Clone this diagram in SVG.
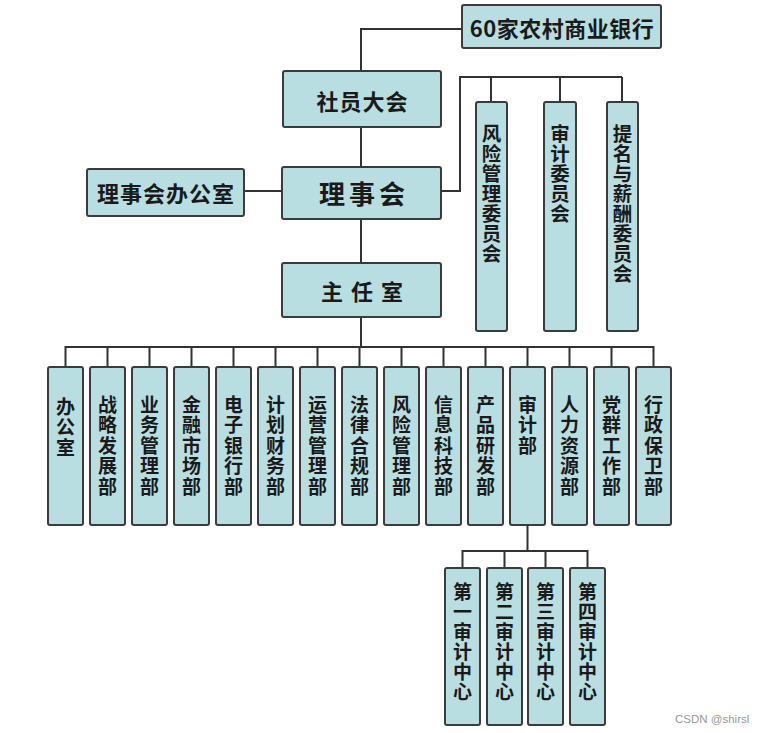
<svg xmlns="http://www.w3.org/2000/svg" width="763" height="733" viewBox="0 0 763 733">
<style>
.box{fill:#b8dee2;stroke:#3c3c3c;stroke-width:2}
.ln{fill:none;stroke:#333;stroke-width:2}
.t{font-family:"Noto Sans CJK SC","Noto Sans",sans-serif;font-weight:700;fill:#1a1a1a}
.h{text-anchor:middle;dominant-baseline:central}
.v{writing-mode:vertical-rl;text-anchor:start;font-size:19px;letter-spacing:1.5px}
.c{writing-mode:vertical-rl;text-anchor:start;font-size:19.5px;letter-spacing:0.5px}
.s{writing-mode:vertical-rl;text-anchor:start;font-size:19px;letter-spacing:1px}
.wm{font-family:"Liberation Sans",Arial,sans-serif;font-size:11.5px;fill:#999}
</style>
<rect width="763" height="733" fill="#fff"/>
<g id="connectors">
<path class="ln" d="M462 29 H361 V71 M361 127 V167 M361 219 V263 M361 317 V347"/>
<path class="ln" d="M244 191 H282"/>
<path class="ln" d="M441 191 H460 V77 H622 M491 77 V102 M560 77 V102 M622 77 V102"/>
<path class="ln" d="M65.5 367 V347 H653.5 V367 M107.5 347 V367 M149.5 347 V367 M191.5 347 V367 M233.5 347 V367 M275.5 347 V367 M317.5 347 V367 M359.5 347 V367 M401.5 347 V367 M443.5 347 V367 M485.5 347 V367 M527.5 347 V367 M569.5 347 V367 M611.5 347 V367"/>
<path class="ln" d="M527.5 525 V551 M462.5 568 V551 H587.5 V568 M504.5 551 V568 M545.5 551 V568"/>
</g>
<g id="bank"><rect class="box" x="462" y="5" width="199" height="43" rx="2"/><text class="t h" x="562" y="27" font-size="22" letter-spacing="0.5">60家农村商业银行</text></g>
<g id="members"><rect class="box" x="283" y="71" width="158" height="56" rx="2"/><text class="t h" x="362.5" y="100" font-size="22" letter-spacing="1">社员大会</text></g>
<g id="board"><rect class="box" x="282" y="167" width="159" height="52" rx="2"/><text class="t h" x="364" y="192" font-size="26" letter-spacing="4">理事会</text></g>
<g id="board-office"><rect class="box" x="87" y="169" width="157" height="47" rx="2"/><text class="t h" x="166" y="192" font-size="22" letter-spacing="1">理事会办公室</text></g>
<g id="director"><rect class="box" x="282" y="263" width="159" height="54" rx="2"/><text class="t h" x="366" y="290" font-size="22" letter-spacing="8">主任室</text></g>
<g id="risk-committee"><rect class="box" x="476" y="102" width="31" height="229" rx="2"/><text class="t c" x="491.5" y="124">风险管理委员会</text></g>
<g id="audit-committee"><rect class="box" x="544" y="102" width="32" height="229" rx="2"/><text class="t c" x="560" y="124">审计委员会</text></g>
<g id="nomination-committee"><rect class="box" x="607" y="102" width="31" height="229" rx="2"/><text class="t c" x="622.5" y="124">提名与薪酬委员会</text></g>
<g id="d1"><rect class="box" x="48" y="367" width="35" height="158" rx="2"/><text class="t v" x="65.5" y="397">办公室</text></g>
<g id="d2"><rect class="box" x="90" y="367" width="35" height="158" rx="2"/><text class="t v" x="107.5" y="395">战略发展部</text></g>
<g id="d3"><rect class="box" x="132" y="367" width="35" height="158" rx="2"/><text class="t v" x="149.5" y="395">业务管理部</text></g>
<g id="d4"><rect class="box" x="174" y="367" width="35" height="158" rx="2"/><text class="t v" x="191.5" y="395">金融市场部</text></g>
<g id="d5"><rect class="box" x="216" y="367" width="35" height="158" rx="2"/><text class="t v" x="233.5" y="395">电子银行部</text></g>
<g id="d6"><rect class="box" x="258" y="367" width="35" height="158" rx="2"/><text class="t v" x="275.5" y="395">计划财务部</text></g>
<g id="d7"><rect class="box" x="300" y="367" width="35" height="158" rx="2"/><text class="t v" x="317.5" y="395">运营管理部</text></g>
<g id="d8"><rect class="box" x="342" y="367" width="35" height="158" rx="2"/><text class="t v" x="359.5" y="395">法律合规部</text></g>
<g id="d9"><rect class="box" x="384" y="367" width="35" height="158" rx="2"/><text class="t v" x="401.5" y="395">风险管理部</text></g>
<g id="d10"><rect class="box" x="426" y="367" width="35" height="158" rx="2"/><text class="t v" x="443.5" y="395">信息科技部</text></g>
<g id="d11"><rect class="box" x="468" y="367" width="35" height="158" rx="2"/><text class="t v" x="485.5" y="395">产品研发部</text></g>
<g id="d12"><rect class="box" x="510" y="367" width="35" height="158" rx="2"/><text class="t v" x="527.5" y="395">审计部</text></g>
<g id="d13"><rect class="box" x="552" y="367" width="35" height="158" rx="2"/><text class="t v" x="569.5" y="395">人力资源部</text></g>
<g id="d14"><rect class="box" x="594" y="367" width="35" height="158" rx="2"/><text class="t v" x="611.5" y="395">党群工作部</text></g>
<g id="d15"><rect class="box" x="636" y="367" width="35" height="158" rx="2"/><text class="t v" x="653.5" y="395">行政保卫部</text></g>
<g id="a1"><rect class="box" x="445" y="568" width="35" height="157" rx="2"/><text class="t s" x="462.5" y="582">第一审计中心</text></g>
<g id="a2"><rect class="box" x="487" y="568" width="35" height="157" rx="2"/><text class="t s" x="504.5" y="582">第二审计中心</text></g>
<g id="a3"><rect class="box" x="528" y="568" width="35" height="157" rx="2"/><text class="t s" x="545.5" y="582">第三审计中心</text></g>
<g id="a4"><rect class="box" x="570" y="568" width="35" height="157" rx="2"/><text class="t s" x="587.5" y="582">第四审计中心</text></g>
<text class="wm" x="675" y="723">CSDN @shirsl</text>
</svg>
